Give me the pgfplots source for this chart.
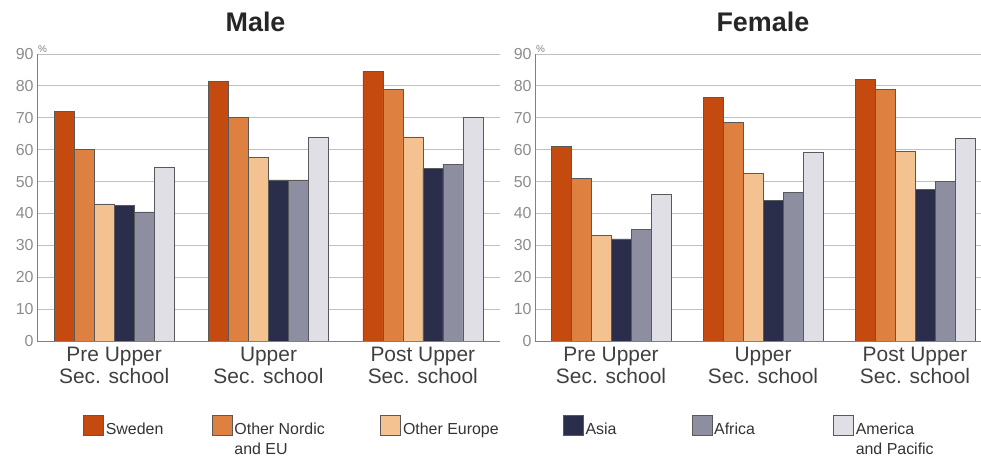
\documentclass[border=0pt]{standalone}
\usepackage{fontspec}
\setmainfont{Liberation Sans}
\usepackage{pgfplots}
\pgfplotsset{compat=1.18}

\definecolor{cSwe}{HTML}{C44A10}
\definecolor{cNor}{HTML}{DE8040}
\definecolor{cEur}{HTML}{F3C290}
\definecolor{cAsi}{HTML}{2B2E4B}
\definecolor{cAfr}{HTML}{8D8E9F}
\definecolor{cAme}{HTML}{DFDFE5}

\pgfplotsset{
  myaxis/.style={
    scale only axis, anchor=south west,
    height=287bp, ymin=0, ymax=90, xmin=-0.5,
    ybar=0pt, bar width=20bp,
    xtick={0,1,2},
    xticklabels={{Pre Upper\\Sec. school},{Upper\\Sec. school},{Post Upper\\Sec. school}},
    xticklabel style={align=center, font=\fontsize{21}{22}\selectfont, text=black!75, yshift=-3bp},
    ytick={0,10,...,90},
    yticklabel style={font=\fontsize{16}{18}\selectfont, text=black!45},
    major tick length=0pt,
    ymajorgrids, grid style={black!25, line width=0.8bp},
    axis x line*=bottom, axis y line*=left,
    axis line style={black!50, line width=0.8bp, -},
    /pgf/number format/assume math mode=true,
    title style={font=\bfseries\fontsize{27}{30}\selectfont, text=black!85, anchor=base, yshift=17bp},
    ylabel={\%},
    ylabel style={rotate=-90, at={(axis description cs:0,1)}, anchor=south west, font=\fontsize{10}{12}\selectfont, text=black!50, inner sep=1bp},
    enlarge x limits=false,
  },
  mybar/.style={fill=#1, draw=black!65, line width=0.6bp,
    legend image code/.code={\draw[fill=#1, draw=black!65, line width=0.6bp] (0bp,-5bp) rectangle (20bp,15bp);}},
}

\begin{document}
\begin{tikzpicture}
\useasboundingbox (0,0) rectangle (981bp,459bp);
\begin{axis}[myaxis, at={(37bp,118bp)}, width=463bp, xmax=2.5,
  title={Male}, title style={at={(0.472,1)}},
  legend columns=6,
  legend style={at={(0.093,-0.249)}, anchor=north west, draw=none, fill=none,
    font=\fontsize{16}{20}\selectfont, text=black!80},
  legend cell align=left,
]
\addplot[mybar=cSwe] coordinates {(0,72) (1,81.5) (2,84.5)};
\addlegendentry{\parbox[t]{104bp}{Sweden}}
\addplot[mybar=cNor] coordinates {(0,60) (1,70) (2,79)};
\addlegendentry{\parbox[t]{144bp}{Other Nordic\\ and EU}}
\addplot[mybar=cEur] coordinates {(0,43) (1,57.5) (2,64)};
\addlegendentry{\parbox[t]{158bp}{Other Europe}}
\addplot[mybar=cAsi] coordinates {(0,42.5) (1,50.5) (2,54)};
\addlegendentry{\parbox[t]{104bp}{Asia}}
\addplot[mybar=cAfr] coordinates {(0,40.5) (1,50.5) (2,55.5)};
\addlegendentry{\parbox[t]{117bp}{Africa}}
\addplot[mybar=cAme] coordinates {(0,54.5) (1,64) (2,70)};
\addlegendentry{\parbox[t]{80bp}{America\\ and Pacific}}
\end{axis}
\begin{axis}[myaxis, at={(535bp,118bp)}, width=446bp, xmax=2.434,
  title={Female}, title style={at={(0.511,1)}},
]
\addplot[mybar=cSwe] coordinates {(0,61) (1,76.5) (2,82)};
\addplot[mybar=cNor] coordinates {(0,51) (1,68.5) (2,79)};
\addplot[mybar=cEur] coordinates {(0,33.2) (1,52.5) (2,59.5)};
\addplot[mybar=cAsi] coordinates {(0,32) (1,44) (2,47.5)};
\addplot[mybar=cAfr] coordinates {(0,35) (1,46.5) (2,50)};
\addplot[mybar=cAme] coordinates {(0,46) (1,59.3) (2,63.5)};
\end{axis}
\end{tikzpicture}
\end{document}
